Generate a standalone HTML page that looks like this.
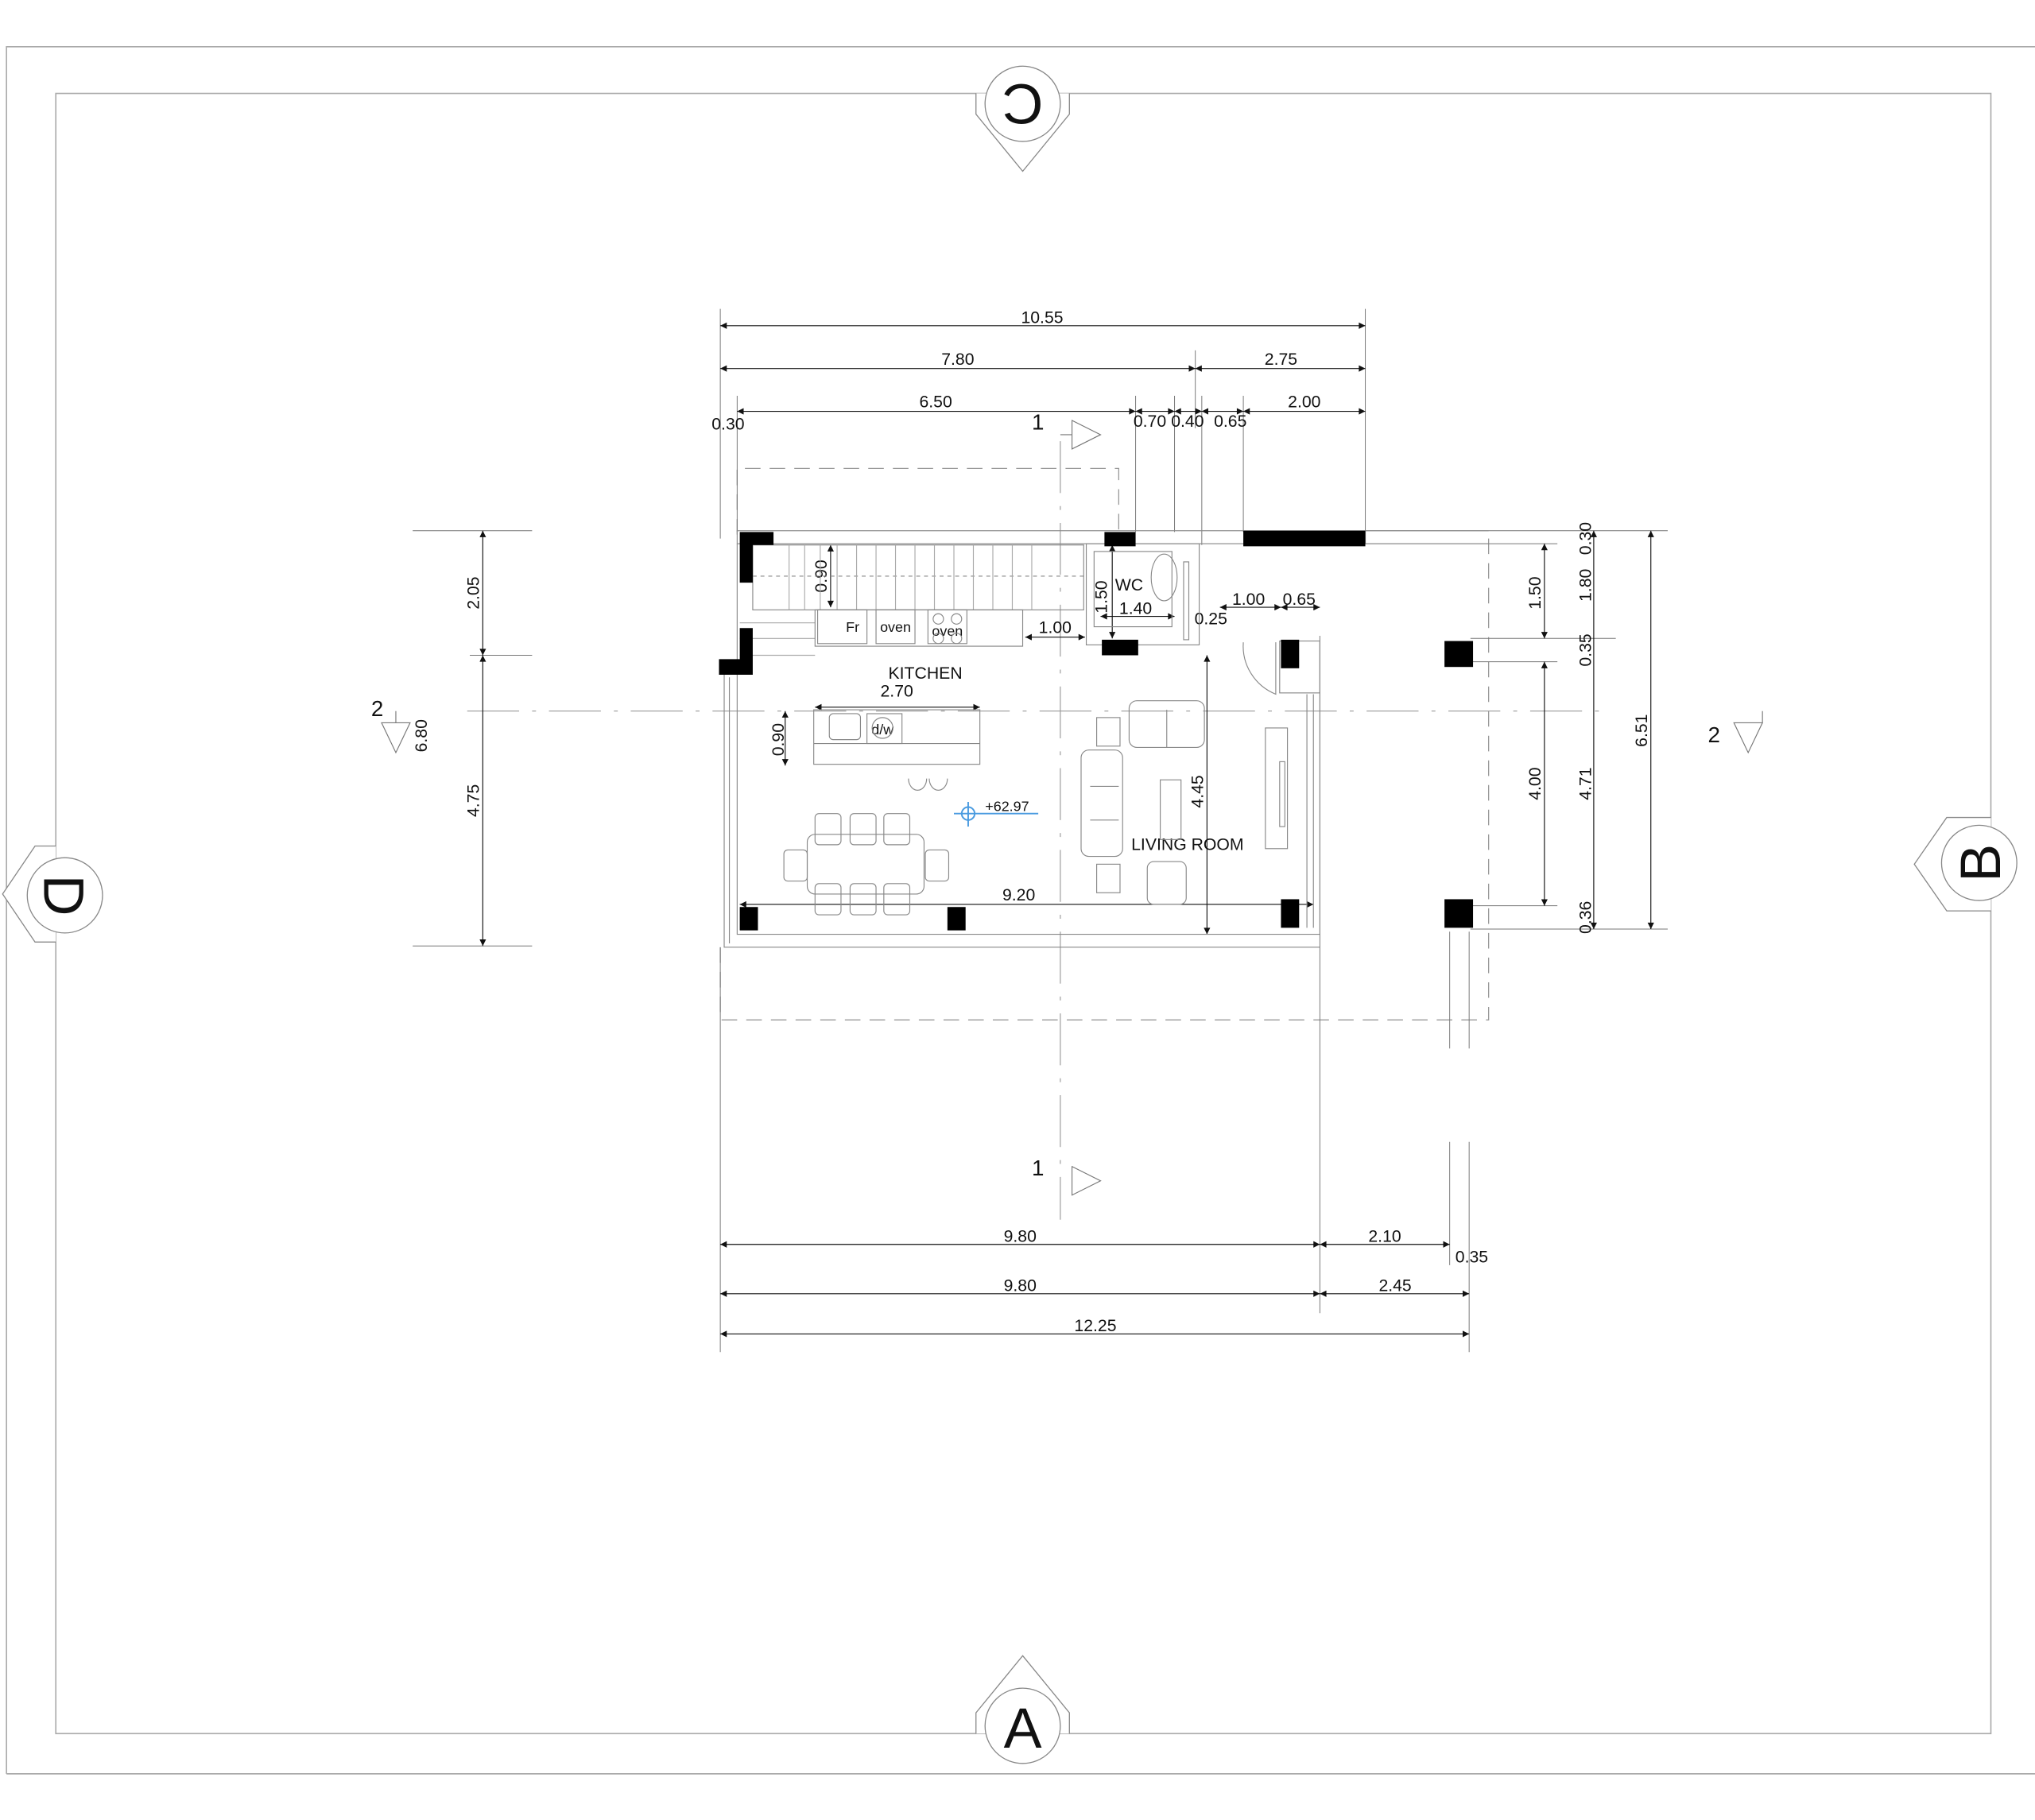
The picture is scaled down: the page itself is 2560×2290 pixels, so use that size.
<!DOCTYPE html>
<html><head><meta charset="utf-8"><style>
html,body{margin:0;padding:0;background:#fff}
svg{display:block}
text{font-family:"Liberation Sans",sans-serif;fill:#111}
</style></head><body>
<svg width="2560" height="2290" viewBox="0 0 1568 1402.6" preserveAspectRatio="none" xmlns="http://www.w3.org/2000/svg">
<defs>
<marker id="a" viewBox="0 0 10 10" refX="10" refY="5" markerWidth="9" markerHeight="5" orient="auto-start-reverse" markerUnits="userSpaceOnUse"><path d="M0,0L10,5L0,10z" fill="#111"/></marker>
</defs>
<g fill="none" stroke="#aaa" stroke-width="1">
<path d="M5,1367V36H1568"/>
<line x1="5" y1="1367" x2="1568" y2="1367"/>
<rect x="43" y="72" width="1491" height="1264"/>
</g>
<!-- markers -->
<g fill="#fff" stroke="#888" stroke-width="0.8">
<path d="M752,72V88L788,132L824,88V72"/><circle cx="788" cy="80" r="29"/>
<path d="M752,1336V1320L788,1276L824,1320V1336"/><circle cx="788" cy="1330" r="29"/>
<path d="M43,652H27L2,689L27,726H43"/><circle cx="50" cy="690" r="29"/>
<path d="M1534,630H1500L1475,666L1500,702H1534"/><circle cx="1525" cy="665" r="29"/>
</g>
<text x="788" y="95" font-size="44" text-anchor="middle" transform="rotate(180 788 80)" dy="0">C</text>
<text x="788" y="1347" font-size="44" text-anchor="middle">A</text>
<text x="50" y="706" font-size="44" text-anchor="middle" transform="rotate(90 50 690)">D</text>
<text x="1525" y="681" font-size="44" text-anchor="middle" transform="rotate(-90 1525 665)">B</text>

<!-- center lines -->
<g stroke="#999" stroke-width="0.7" stroke-dasharray="40,10,3,10" fill="none">
<line x1="360" y1="548" x2="1240" y2="548"/>
<line x1="817" y1="340" x2="817" y2="940"/>
</g>
<g stroke="#999" stroke-width="0.8" stroke-dasharray="12,7" fill="none">
<path d="M568,412V361H862V410"/>
<path d="M555,730V786H1147V410"/>
</g>

<!-- extension lines -->
<g stroke="#777" stroke-width="0.6">
<line x1="555" y1="238" x2="555" y2="415"/><line x1="1052" y1="238" x2="1052" y2="410"/>
<line x1="921" y1="270" x2="921" y2="330"/>
<line x1="568" y1="305" x2="568" y2="410"/><line x1="875" y1="305" x2="875" y2="410"/>
<line x1="905" y1="305" x2="905" y2="410"/><line x1="926" y1="305" x2="926" y2="420"/>
<line x1="958" y1="305" x2="958" y2="410"/>
<line x1="555" y1="730" x2="555" y2="1042"/><line x1="1017" y1="490" x2="1017" y2="1012"/>
<line x1="1117" y1="880" x2="1117" y2="975"/><line x1="1132" y1="880" x2="1132" y2="1042"/>
<line x1="1117" y1="718" x2="1117" y2="808"/><line x1="1132" y1="718" x2="1132" y2="808"/>
<line x1="318" y1="409" x2="410" y2="409"/><line x1="362" y1="505" x2="410" y2="505"/><line x1="318" y1="729" x2="410" y2="729"/>
<line x1="1052" y1="409" x2="1285" y2="409"/><line x1="1025" y1="419" x2="1200" y2="419"/>
<line x1="1133" y1="492" x2="1245" y2="492"/><line x1="1133" y1="510" x2="1200" y2="510"/>
<line x1="1133" y1="698" x2="1200" y2="698"/><line x1="1133" y1="716" x2="1285" y2="716"/>
</g>
<!-- dimension lines -->
<g stroke="#111" stroke-width="0.7" marker-start="url(#a)" marker-end="url(#a)">
<line x1="555" y1="251" x2="1052" y2="251"/>
<line x1="555" y1="284" x2="921" y2="284"/><line x1="921" y1="284" x2="1052" y2="284"/>
<line x1="568" y1="317" x2="875" y2="317"/><line x1="875" y1="317" x2="905" y2="317"/>
<line x1="905" y1="317" x2="926" y2="317"/><line x1="926" y1="317" x2="958" y2="317"/>
<line x1="958" y1="317" x2="1052" y2="317"/>
<line x1="555" y1="959" x2="1017" y2="959"/><line x1="1017" y1="959" x2="1117" y2="959"/>
<line x1="555" y1="997" x2="1017" y2="997"/><line x1="1017" y1="997" x2="1132" y2="997"/>
<line x1="555" y1="1028" x2="1132" y2="1028"/>
<line x1="372" y1="409" x2="372" y2="505"/><line x1="372" y1="505" x2="372" y2="729"/>
<line x1="1190" y1="419" x2="1190" y2="492"/><line x1="1190" y1="510" x2="1190" y2="698"/>
<line x1="1228" y1="409" x2="1228" y2="716"/>
<line x1="1272" y1="409" x2="1272" y2="716"/>
<line x1="628" y1="545" x2="755" y2="545"/>
<line x1="605" y1="548" x2="605" y2="590"/>
<line x1="640" y1="420" x2="640" y2="468"/>
<line x1="857" y1="420" x2="857" y2="492"/>
<line x1="848" y1="475" x2="905" y2="475"/>
<line x1="790" y1="491" x2="836" y2="491"/>
<line x1="940" y1="468" x2="987" y2="468"/><line x1="987" y1="468" x2="1017" y2="468"/>
<line x1="930" y1="505" x2="930" y2="720"/>
<line x1="570" y1="697" x2="1012" y2="697"/>
</g>

<!-- texts -->
<g font-size="13" text-anchor="middle">
<text x="803" y="249">10.55</text><text x="738" y="281">7.80</text><text x="987" y="281">2.75</text>
<text x="721" y="314">6.50</text><text x="561" y="331">0.30</text><text x="886" y="329">0.70</text>
<text x="915" y="329">0.40</text><text x="948" y="329">0.65</text><text x="1005" y="314">2.00</text>
<text x="786" y="957">9.80</text><text x="1067" y="957">2.10</text><text x="1134" y="973">0.35</text>
<text x="786" y="995">9.80</text><text x="1075" y="995">2.45</text><text x="844" y="1026">12.25</text>
<text x="691" y="537">2.70</text><text x="785" y="694">9.20</text>
<text x="875" y="473">1.40</text><text x="813" y="488">1.00</text><text x="933" y="481">0.25</text>
<text x="962" y="466">1.00</text><text x="1001" y="466">0.65</text>
<text x="713" y="523">KITCHEN</text><text x="915" y="655">LIVING ROOM</text>
<text x="870" y="455">WC</text><text x="657" y="487" font-size="11">Fr</text>
<text x="690" y="487" font-size="11">oven</text><text x="730" y="490" font-size="11">oven</text>
<text x="680" y="566" font-size="11">d/w</text>
<text x="776" y="625" font-size="11">+62.97</text>
</g>
<g font-size="13" text-anchor="middle">
<text transform="translate(369,457) rotate(-90)">2.05</text>
<text transform="translate(369,617) rotate(-90)">4.75</text>
<text transform="translate(329,567) rotate(-90)">6.80</text>
<text transform="translate(637,444) rotate(-90)">0.90</text>
<text transform="translate(604,570) rotate(-90)">0.90</text>
<text transform="translate(853,460) rotate(-90)">1.50</text>
<text transform="translate(927,610) rotate(-90)">4.45</text>
<text transform="translate(1187,457) rotate(-90)">1.50</text>
<text transform="translate(1187,604) rotate(-90)">4.00</text>
<text transform="translate(1226,415) rotate(-90)">0.30</text>
<text transform="translate(1226,451) rotate(-90)">1.80</text>
<text transform="translate(1226,501) rotate(-90)">0.35</text>
<text transform="translate(1226,604) rotate(-90)">4.71</text>
<text transform="translate(1226,707) rotate(-90)">0.36</text>
<text transform="translate(1269,563) rotate(-90)">6.51</text>
</g>
<!-- section marks -->
<g font-size="17"><text x="795" y="331">1</text><text x="795" y="906">1</text><text x="286" y="552">2</text><text x="1316" y="572">2</text></g>
<g fill="#fff" stroke="#777" stroke-width="0.7">
<path d="M826,324L848,335L826,346z"/><path d="M817,335H826"/>
<path d="M826,899L848,910L826,921z"/>
<path d="M294,557H316L305,580z"/><path d="M305,548V557"/>
<path d="M1336,557H1358L1347,580z"/><path d="M1358,548V557"/>
</g>

<!-- building -->
<g fill="none" stroke="#888" stroke-width="0.7">
<rect x="568" y="409" width="484" height="10"/>
<line x1="1052" y1="409" x2="1147" y2="409"/><line x1="1052" y1="419" x2="1147" y2="419"/>
<path d="M568,419V720H1017V495"/>
<path d="M558,520V730H1017"/>
<path d="M562,522V727"/>
<rect x="580" y="420" width="255" height="50"/>
<line x1="580" y1="444" x2="835" y2="444" stroke-dasharray="3,3"/>
<g stroke="#aaa">
<line x1="608" y1="420" x2="608" y2="470"/><line x1="620" y1="420" x2="620" y2="470"/><line x1="632" y1="420" x2="632" y2="470"/><line x1="645" y1="420" x2="645" y2="470"/><line x1="660" y1="420" x2="660" y2="470"/><line x1="675" y1="420" x2="675" y2="470"/><line x1="690" y1="420" x2="690" y2="470"/><line x1="705" y1="420" x2="705" y2="470"/><line x1="720" y1="420" x2="720" y2="470"/><line x1="735" y1="420" x2="735" y2="470"/><line x1="750" y1="420" x2="750" y2="470"/><line x1="765" y1="420" x2="765" y2="470"/><line x1="780" y1="420" x2="780" y2="470"/><line x1="795" y1="420" x2="795" y2="470"/>
<line x1="570" y1="480" x2="628" y2="480"/><line x1="570" y1="492" x2="628" y2="492"/><line x1="570" y1="505" x2="628" y2="505"/>
</g>
<rect x="628" y="470" width="160" height="28"/>
<rect x="630" y="470" width="38" height="26"/><rect x="675" y="470" width="30" height="26"/><rect x="715" y="470" width="30" height="26"/>
<circle cx="723" cy="477" r="4"/><circle cx="737" cy="477" r="4"/><circle cx="723" cy="492" r="4"/><circle cx="737" cy="492" r="4"/>
<rect x="627" y="547" width="128" height="42"/><line x1="627" y1="573" x2="755" y2="573"/>
<rect x="639" y="550" width="24" height="20" rx="3"/><rect x="668" y="550" width="27" height="23"/>
<circle cx="680" cy="561" r="8"/>
<path d="M700,600a7,9 0 0 0 14,0M716,600a7,9 0 0 0 14,0"/>
<rect x="837" y="419" width="87" height="78"/><rect x="843" y="425" width="60" height="58"/>
<ellipse cx="897" cy="445" rx="10" ry="18"/>
<rect x="912" y="433" width="4" height="60"/>
<rect x="986" y="494" width="31" height="40"/>
<path d="M958,495a40,40 0 0 0 25,40V495"/>
<path d="M1007,535V715M1012,535V715"/>
<rect x="870" y="540" width="58" height="36" rx="6"/><line x1="899" y1="547" x2="899" y2="576"/>
<rect x="833" y="578" width="32" height="82" rx="6"/><line x1="840" y1="606" x2="862" y2="606"/><line x1="840" y1="632" x2="862" y2="632"/>
<rect x="845" y="553" width="18" height="22"/><rect x="845" y="666" width="18" height="22"/>
<rect x="884" y="664" width="30" height="33" rx="5"/>
<rect x="894" y="601" width="16" height="46"/>
<rect x="975" y="561" width="17" height="93"/><rect x="986" y="587" width="4" height="50"/>
<rect x="622" y="643" width="90" height="46" rx="6"/>
<rect x="604" y="655" width="18" height="24" rx="3"/><rect x="713" y="655" width="18" height="24" rx="3"/>
<rect x="628" y="627" width="20" height="24" rx="3"/><rect x="655" y="627" width="20" height="24" rx="3"/><rect x="681" y="627" width="20" height="24" rx="3"/>
<rect x="628" y="681" width="20" height="24" rx="3"/><rect x="655" y="681" width="20" height="24" rx="3"/><rect x="681" y="681" width="20" height="24" rx="3"/>
</g>
<g stroke="#4a9be0" stroke-width="1.2" fill="none"><circle cx="746" cy="627" r="5"/><line x1="735" y1="627" x2="800" y2="627"/><line x1="746" y1="618" x2="746" y2="637"/></g>
<!-- columns -->
<g fill="#000">
<path d="M570,410H596V420H580V449H570z"/>
<path d="M570,484H580V520H554V508H570z"/>
<rect x="851" y="410" width="24" height="11"/>
<rect x="849" y="493" width="28" height="12"/>
<rect x="958" y="409" width="94" height="12"/>
<rect x="987" y="493" width="14" height="22"/>
<rect x="1113" y="494" width="22" height="20"/>
<rect x="1113" y="693" width="22" height="22"/>
<rect x="570" y="699" width="14" height="18"/>
<rect x="730" y="699" width="14" height="18"/>
<rect x="987" y="693" width="14" height="22"/>
</g>
</svg>
</body></html>
